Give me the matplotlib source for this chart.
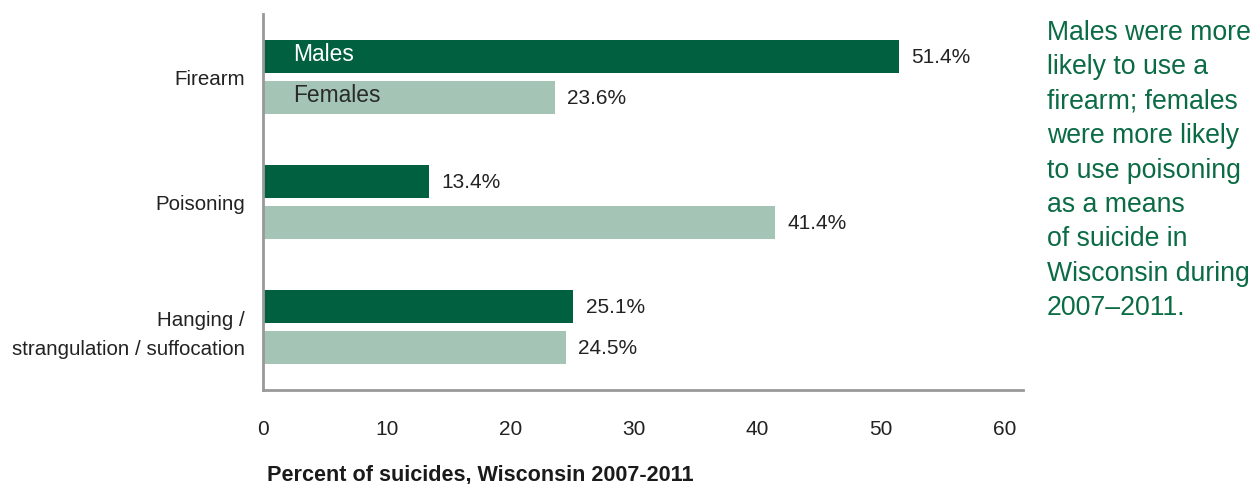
import numpy as np
import matplotlib.pyplot as plt

# Means of suicide by sex, Wisconsin 2007-2011
methods = ['Firearm', 'Poisoning', 'Hanging /\nstrangulation / suffocation']
males = [51.4, 13.4, 25.1]
females = [23.6, 41.4, 24.5]
xticks = [0, 10, 20, 30, 40, 50, 60]

dark = '#00603f'
light = '#a4c5b5'
note_green = '#0b6b45'

plt.rcParams['font.family'] = ['Liberation Sans', 'DejaVu Sans']

fig = plt.figure(figsize=(12.54, 4.85), dpi=100)
ax = fig.add_axes([263 / 1254, 1 - 391 / 485, 760 / 1254, 376 / 485])

y = np.arange(len(methods))
off = 0.163
h = 0.263
ax.barh(y - off, males, height=h, color=dark)
ax.barh(y + off, females, height=h, color=light)

for yi, m, f in zip(y, males, females):
    ax.text(m + 1.0, yi - off, f'{m}%', va='center', ha='left', fontsize=15, color='#222222')
    ax.text(f + 1.0, yi + off, f'{f}%', va='center', ha='left', fontsize=15, color='#222222')

# series names written inside the first pair of bars
ax.text(2.4, y[0] - off - 0.02, 'Males', va='center', ha='left', fontsize=16.4, color='white')
ax.text(2.4, y[0] + off - 0.02, 'Females', va='center', ha='left', fontsize=16.4, color='#2a2a2a')

ax.set_xlim(0, 60 * 760 / 742)
ax.set_ylim(2.5, -0.5)
ax.set_xticks(xticks)
ax.set_xticklabels([str(t) for t in xticks], fontsize=15, color='#222222')
ax.set_yticks(y)
ax.set_yticklabels(methods, fontsize=14.8, color='#222222', ha='right',
                   linespacing=1.65)
ax.tick_params(axis='both', length=0)
ax.tick_params(axis='x', pad=21)
ax.tick_params(axis='y', pad=13)

for s in ['top', 'right']:
    ax.spines[s].set_visible(False)
for s in ['left', 'bottom']:
    ax.spines[s].set_color('#999999')
    ax.spines[s].set_linewidth(2)

fig.text(267 / 1254, 1 - 475 / 485, 'Percent of suicides, Wisconsin 2007-2011',
         fontsize=15.6, fontweight='bold', color='#1a1a1a', ha='left', va='center')

note = ('Males were more\nlikely to use a\nfirearm; females\nwere more likely\n'
        'to use poisoning\nas a means\nof suicide in\nWisconsin during\n2007\u20132011.')
fig.text(1047 / 1254, 1 - 20 / 485, note, fontsize=19.2, color=note_green,
         ha='left', va='top', linespacing=1.42)

fig.savefig('out.png', dpi=100)
